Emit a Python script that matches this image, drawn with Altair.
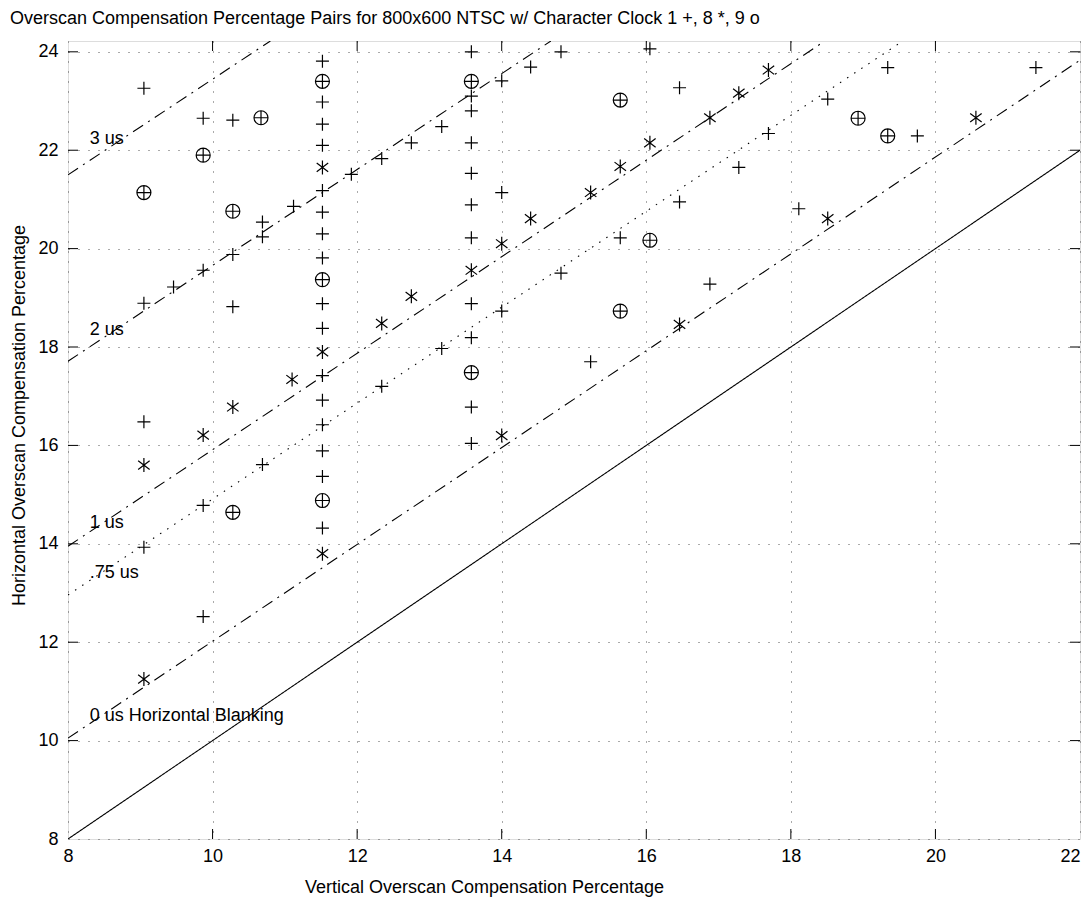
import altair as alt
import pandas as pd

FONT = "Liberation Sans"
FS = 18

# ---- data ----
plus_x = [9.05, 11.52, 9.87, 10.28, 11.52, 11.52, 11.52, 12.34, 11.92, 11.52, 11.12, 11.52,
          10.69, 10.69, 11.52, 11.52, 10.28, 9.87, 9.46, 9.05, 11.52, 10.28, 11.52, 11.52,
          12.34, 11.52, 9.05, 11.52, 11.52, 10.69, 11.52, 9.87, 11.52, 9.05, 9.87,
          13.58, 14.82, 16.05, 14.40, 14.00, 13.58, 13.58, 16.46, 13.17, 12.75, 13.58, 13.58,
          14.00, 13.58, 16.46, 13.58, 15.64, 14.82, 16.88, 13.58, 14.00, 13.58, 13.17, 15.23,
          13.58, 13.58, 19.34, 18.51, 19.75, 21.39, 17.69, 17.28, 18.11]
plus_y = [23.26, 23.81, 22.65, 22.61, 22.98, 22.53, 22.10, 21.83, 21.51, 21.18, 20.86, 20.74,
          20.54, 20.24, 20.30, 19.81, 19.88, 19.56, 19.22, 18.89, 18.88, 18.82, 18.38, 17.42,
          17.20, 16.92, 16.48, 16.42, 15.89, 15.61, 15.37, 14.78, 14.32, 13.93, 12.52,
          24.00, 24.00, 24.06, 23.69, 23.41, 23.10, 22.80, 23.27, 22.48, 22.15, 22.15, 21.53,
          21.14, 20.89, 20.95, 20.22, 20.22, 19.50, 19.28, 18.88, 18.73, 18.19, 17.97, 17.70,
          16.78, 16.04, 23.68, 23.04, 22.29, 23.68, 22.34, 21.65, 20.81]

star_x = [11.52, 12.34, 11.52, 11.10, 10.28, 9.87, 9.05, 11.52, 9.05, 16.88, 16.05, 15.64,
          15.23, 14.40, 14.00, 13.58, 12.75, 14.00, 16.46, 17.69, 17.28, 20.56, 18.51]
star_y = [21.65, 18.48, 17.90, 17.34, 16.78, 16.21, 15.60, 13.80, 11.25, 22.66, 22.15, 21.67,
          21.14, 20.61, 20.10, 19.56, 19.03, 16.20, 18.46, 23.63, 23.16, 22.66, 20.61]

circ_x = [11.52, 10.67, 9.87, 9.05, 10.28, 11.52, 11.52, 10.28, 13.58, 15.64, 16.05, 15.64,
          13.58, 18.93, 19.34]
circ_y = [23.40, 22.66, 21.90, 21.14, 20.76, 19.37, 14.88, 14.64, 23.40, 23.02, 20.17, 18.73,
          17.48, 22.65, 22.29]

# reference lines (two end points each)
line_names = ["identity", "0 us", ".75 us", "1 us", "2 us", "3 us"]
line_x0 = [8, 8, 8, 8, 8, 8]
line_y0 = [8, 10.05, 12.96, 13.95, 17.71, 21.50]
line_x1 = [22, 22, 19.55, 18.47, 14.68, 10.80]
line_y1 = [22, 23.83, 24.22, 24.22, 24.22, 24.22]

label_text = ["3 us", "2 us", "1 us", ".75 us", "0 us Horizontal Blanking"]
label_x = [8.30, 8.30, 8.30, 8.30, 8.30]
label_y = [22.22, 18.34, 14.43, 13.41, 10.50]

x_ticks = [8, 10, 12, 14, 16, 18, 20, 22]
y_ticks = [8, 10, 12, 14, 16, 18, 20, 22, 24]

W, H = 1012, 798
XDOM = [8, 22]
YDOM = [8, 24.22]

xs = alt.Scale(domain=XDOM, nice=False, zero=False)
ys = alt.Scale(domain=YDOM, nice=False, zero=False)

xaxis = alt.Axis(values=x_ticks, format="d", title="Vertical Overscan Compensation Percentage",
                 grid=True, gridDash=[1, 9], gridColor="#555", gridWidth=1,
                 ticks=False, domain=False, labelPadding=8, labelFontSize=FS,
                 labelFont=FONT, labelColor="black", labelFlush=False,
                 labelAlign=alt.condition("datum.value == 22", alt.value("right"), alt.value("center")),
                 titleFont=FONT, titleFontSize=FS, titleFontWeight="normal", titleColor="black",
                 titleX=416, titleY=48, titleAlign="center", titleBaseline="middle")
yaxis = alt.Axis(values=y_ticks, format="d", title="Horizontal Overscan Compensation Percentage",
                 grid=True, gridDash=[1, 9], gridColor="#555", gridWidth=1,
                 ticks=False, domain=False, labelPadding=10, labelFontSize=FS,
                 labelFont=FONT, labelColor="black", labelFlush=False,
                 titleFont=FONT, titleFontSize=FS, titleFontWeight="normal", titleColor="black",
                 titleX=-49, titleY=374, titleAlign="center", titleBaseline="middle")

base = alt.Chart(pd.DataFrame({"x": [8], "y": [8]})).mark_point(opacity=0).encode(
    x=alt.X("x:Q", scale=xs, axis=xaxis),
    y=alt.Y("y:Q", scale=ys, axis=yaxis),
)

lines_df = pd.DataFrame({"name": line_names, "x0": line_x0, "y0": line_y0,
                         "x1": line_x1, "y1": line_y1})
dash_map = {"identity": [1, 0], "0 us": [12, 6, 2, 6], ".75 us": [1.5, 7],
            "1 us": [12, 6, 2, 6], "2 us": [12, 6, 2, 6], "3 us": [12, 6, 2, 6]}
line_layers = []
for nm in line_names:
    d = lines_df[lines_df["name"] == nm]
    line_layers.append(
        alt.Chart(d).mark_rule(color="black", strokeWidth=1.1, strokeDash=dash_map[nm], clip=True).encode(
            x=alt.X("x0:Q", scale=xs), y=alt.Y("y0:Q", scale=ys),
            x2="x1:Q", y2="y1:Q")
    )

PLUS = "M-1,0L1,0M0,-1L0,1"
STAR = "M0,-1L0,1M-0.82,-0.62L0.82,0.62M-0.82,0.62L0.82,-0.62"
CIRC = "M-1,0A1,1,0,1,0,1,0A1,1,0,1,0,-1,0ZM-1,0L1,0M0,-1L0,1"

def pts(xv, yv, shape, size):
    return alt.Chart(pd.DataFrame({"x": xv, "y": yv})).mark_point(
        shape=shape, filled=False, color="black", strokeWidth=1.2, size=size, opacity=1
    ).encode(x=alt.X("x:Q", scale=xs), y=alt.Y("y:Q", scale=ys))

plus_layer = pts(plus_x, plus_y, PLUS, 169)
star_layer = pts(star_x, star_y, STAR, 196)
circ_layer = pts(circ_x, circ_y, CIRC, 196)

labels_layer = alt.Chart(pd.DataFrame({"t": label_text, "x": label_x, "y": label_y})).mark_text(
    align="left", baseline="middle", font=FONT, fontSize=FS, color="black"
).encode(x=alt.X("x:Q", scale=xs), y=alt.Y("y:Q", scale=ys), text="t:N")

xt = pd.DataFrame({"v": x_ticks[1:-1]})
yt = pd.DataFrame({"v": y_ticks[1:]})
tick_bottom = alt.Chart(xt).mark_rule(color="black", strokeWidth=1).encode(
    x=alt.X("v:Q", scale=xs), y=alt.value(H), y2=alt.value(H - 10))
tick_top = alt.Chart(xt).mark_rule(color="black", strokeWidth=1).encode(
    x=alt.X("v:Q", scale=xs), y=alt.value(0), y2=alt.value(10))
tick_left = alt.Chart(yt).mark_rule(color="black", strokeWidth=1).encode(
    y=alt.Y("v:Q", scale=ys), x=alt.value(0), x2=alt.value(10))
tick_right = alt.Chart(yt).mark_rule(color="black", strokeWidth=1).encode(
    y=alt.Y("v:Q", scale=ys), x=alt.value(W), x2=alt.value(W - 10))

chart = alt.layer(
    base, *line_layers, plus_layer, star_layer, circ_layer, labels_layer,
    tick_bottom, tick_top, tick_left, tick_right
).properties(
    width=W, height=H,
    title=alt.TitleParams(
        "Overscan Compensation Percentage Pairs for 800x600 NTSC w/ Character Clock 1 +, 8 *, 9 o",
        anchor="start", frame="group", dx=-58, offset=12,
        font=FONT, fontSize=FS, fontWeight="normal", color="black"),
    autosize=alt.AutoSizeParams(type="none"),
    padding={"left": 60, "top": 33, "right": 2, "bottom": 62},
).configure_view(stroke="black", strokeWidth=1.5).configure(background="white")

chart.save("out.html", embed_options={"renderer": "svg", "actions": False})
